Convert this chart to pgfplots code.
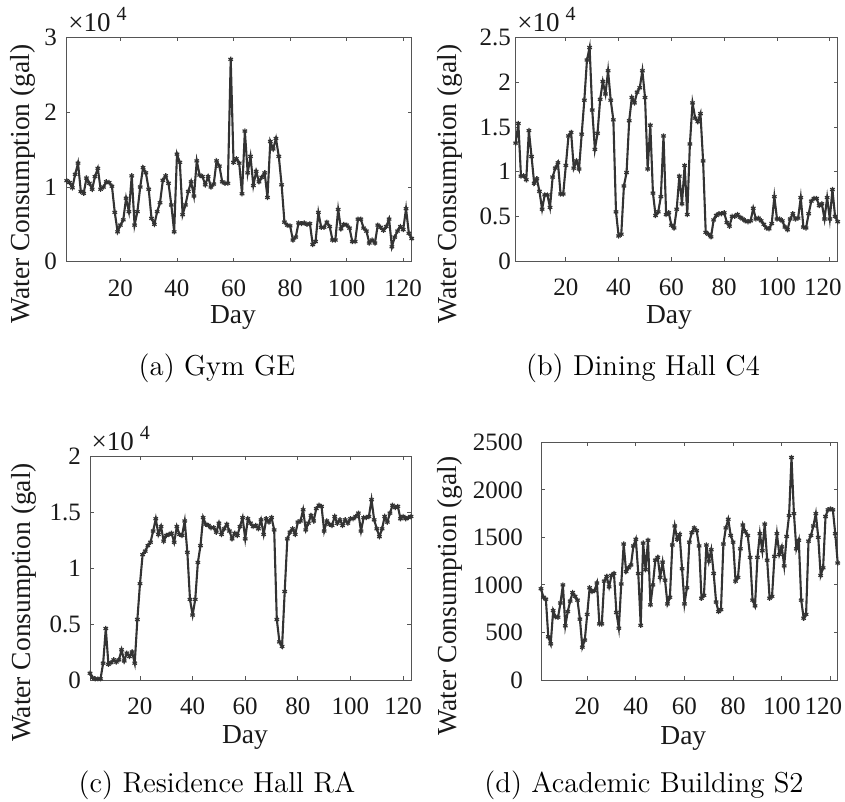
\documentclass[border=0pt]{standalone}
\usepackage{pgfplots}
\pgfplotsset{compat=1.18}
\usepackage{fontspec}
\newfontfamily\timesfont{Liberation Serif}
\newcommand\tickfont{\timesfont\fontsize{12.5}{14}\selectfont}
\newcommand\labfont{\timesfont\fontsize{13.75}{16}\selectfont}
\newcommand\capfont{\fontsize{14.4}{17}\selectfont}
\definecolor{linec}{HTML}{333333}
\definecolor{axc}{HTML}{555555}
\pgfplotsset{
 panel/.style={
  scale only axis, clip=false,
  xmin=1, xmax=123,
  xtick={20,40,60,80,100,120},
  xticklabels={20,40,60,80,100,120},
  scaled y ticks=false, scaled x ticks=false,
  tick align=inside, tick pos=both,
  major tick length=1.8pt,
  axis line style={axc, line width=0.45pt},
  every tick/.style={axc, line width=0.45pt},
  tick label style={font=\tickfont, text=black!90},
  xticklabel style={yshift=-5.5pt},
  /pgf/number format/assume math mode=true,
  label style={font=\labfont, text=black!90},
  xlabel={Day}, ylabel={Water Consumption (gal)},
 },
 dat/.style={color=linec, line width=1.05pt, mark=asterisk, mark size=1.3pt, mark options={line width=0.6pt, solid}},
}
\newcommand\timesten{\node[anchor=base west, yshift=2.85pt, text=black!90, inner sep=0pt] at (rel axis cs:0.004,1) {\timesfont\fontsize{13.5}{15}\selectfont ×10\hspace{3pt}\raisebox{5.5pt}{\fontsize{10}{11}\selectfont 4}};}
\begin{document}
\begin{tikzpicture}
\path[use as bounding box] (0,0) rectangle (422.5pt,401pt);
% (a)
\begin{axis}[panel, at={(33.35pt,270.15pt)}, anchor=south west, width=172.5pt, height=112pt,
 ymin=0, ymax=30000, ytick={0,10000,20000,30000}, yticklabels={0,1,2,3},
 yticklabel style={xshift=-1.35pt},
 ylabel style={at={(axis description cs:-0.1267,0.347)}, anchor=center},
 xlabel style={at={(axis description cs:0.482,-0.251)}, anchor=center}]
\addplot[dat] table[row sep=\\]{x y\\
1 10850\\ 2 10600\\ 3 9900\\ 4 11700\\ 5 13200\\ 6 9400\\ 7 9150\\ 8 11200\\ 9 10500\\ 10 9700\\
11 11400\\ 12 12500\\ 13 9700\\ 14 10000\\ 15 10700\\ 16 10600\\ 17 10100\\ 18 6600\\ 19 4000\\ 20 4900\\
21 5600\\ 22 8500\\ 23 6700\\ 24 11500\\ 25 4900\\ 26 6700\\ 27 10000\\ 28 12600\\ 29 11900\\ 30 9700\\
31 5800\\ 32 5000\\ 33 6700\\ 34 7900\\ 35 10900\\ 36 11500\\ 37 10500\\ 38 7600\\ 39 4000\\ 40 14400\\
41 13300\\ 42 6300\\ 43 7600\\ 44 9400\\ 45 10700\\ 46 8800\\ 47 13500\\ 48 11600\\ 49 11400\\ 50 10300\\
51 11400\\ 52 10000\\ 53 10400\\ 54 13500\\ 55 12800\\ 56 10700\\ 57 10500\\ 58 10500\\ 59 27100\\ 60 13300\\
61 13800\\ 62 13200\\ 63 9100\\ 64 17500\\ 65 11900\\ 66 14100\\ 67 10200\\ 68 12100\\ 69 10700\\ 70 11300\\
71 11900\\ 72 8600\\ 73 16100\\ 74 15100\\ 75 16500\\ 76 14100\\ 77 10300\\ 78 5300\\ 79 4900\\ 80 4800\\
81 2900\\ 82 3300\\ 83 5200\\ 84 5100\\ 85 5200\\ 86 5000\\ 87 5100\\ 88 2300\\ 89 2700\\ 90 6600\\
91 4600\\ 92 4600\\ 93 5300\\ 94 4700\\ 95 2900\\ 96 2900\\ 97 7000\\ 98 4400\\ 99 5000\\ 100 4900\\
101 4500\\ 102 2700\\ 103 2700\\ 104 5700\\ 105 5700\\ 106 4500\\ 107 4100\\ 108 2500\\ 109 2900\\ 110 2500\\
111 4900\\ 112 4600\\ 113 4200\\ 114 4700\\ 115 5700\\ 116 2000\\ 117 3300\\ 118 4100\\ 119 4700\\ 120 4300\\
121 7100\\ 122 3800\\ 123 3100\\
};
\timesten
\end{axis}
% (b)
\begin{axis}[panel, at={(257.85pt,270.5pt)}, anchor=south west, width=161pt, height=111.65pt,
 ymin=0, ymax=25000, ytick={0,5000,10000,15000,20000,25000}, yticklabels={0,0.5,1,1.5,2,2.5},
 xticklabels={20,40,60,80,100,{\kern-7pt 120}},
 yticklabel style={xshift=1.1pt},
 ylabel style={at={(axis description cs:-0.204,0.345)}, anchor=center},
 xlabel style={at={(axis description cs:0.4761,-0.252)}, anchor=center}]
\addplot[dat] table[row sep=\\]{x y\\
1 13200\\ 2 15400\\ 3 9500\\ 4 9550\\ 5 9100\\ 6 14600\\ 7 11700\\ 8 8700\\ 9 9200\\ 10 7800\\
11 5800\\ 12 7400\\ 13 7400\\ 14 6000\\ 15 9400\\ 16 10400\\ 17 11000\\ 18 7500\\ 19 7500\\ 20 10700\\
21 14000\\ 22 14400\\ 23 10400\\ 24 11200\\ 25 10300\\ 26 14200\\ 27 18000\\ 28 22500\\ 29 23900\\ 30 16900\\
31 12500\\ 32 14300\\ 33 18100\\ 34 20100\\ 35 18700\\ 36 21300\\ 37 18000\\ 38 15800\\ 39 5500\\ 40 2800\\
41 3000\\ 42 8400\\ 43 9900\\ 44 15700\\ 45 18300\\ 46 17700\\ 47 18900\\ 48 19400\\ 49 21300\\ 50 18300\\
51 10300\\ 52 15200\\ 53 7600\\ 54 5100\\ 55 5500\\ 56 7200\\ 57 14000\\ 58 5200\\ 59 5400\\ 60 4000\\
61 3700\\ 62 5800\\ 63 9500\\ 64 6400\\ 65 10700\\ 66 5200\\ 67 13100\\ 68 17700\\ 69 16000\\ 70 15600\\
71 16500\\ 72 11200\\ 73 3200\\ 74 3000\\ 75 2700\\ 76 4600\\ 77 5100\\ 78 5300\\ 79 5300\\ 80 5400\\
81 4300\\ 82 3900\\ 83 5000\\ 84 5000\\ 85 5200\\ 86 4900\\ 87 4700\\ 88 4500\\ 89 4400\\ 90 4500\\
91 5900\\ 92 4700\\ 93 4800\\ 94 4500\\ 95 4100\\ 96 3700\\ 97 3600\\ 98 4200\\ 99 7200\\ 100 4700\\
101 4700\\ 102 4500\\ 103 3800\\ 104 3500\\ 105 4700\\ 106 5300\\ 107 4700\\ 108 4800\\ 109 7100\\ 110 3800\\
111 3700\\ 112 5300\\ 113 6700\\ 114 7000\\ 115 7000\\ 116 6200\\ 117 6400\\ 118 4700\\ 119 7100\\ 120 4700\\
121 8000\\ 122 5000\\ 123 4400\\
};
\timesten
\end{axis}
% (c)
\begin{axis}[panel, at={(45pt,61pt)}, anchor=south west, width=160.5pt, height=112pt,
 ymin=0, ymax=20000, ytick={0,5000,10000,15000,20000}, yticklabels={0,0.5,1,1.5,2},
 yticklabel style={xshift=-1pt},
 ylabel style={at={(axis description cs:-0.2056,0.346)}, anchor=center},
 xlabel style={at={(axis description cs:0.483,-0.2576)}, anchor=center}]
\addplot[dat] table[row sep=\\]{x y\\
1 600\\ 2 200\\ 3 100\\ 4 100\\ 5 100\\ 6 1500\\ 7 4600\\ 8 1400\\ 9 1550\\ 10 1800\\
11 1600\\ 12 1800\\ 13 2700\\ 14 1700\\ 15 2400\\ 16 2100\\ 17 2500\\ 18 1500\\ 19 5400\\ 20 8600\\
21 11200\\ 22 11500\\ 23 12000\\ 24 12300\\ 25 13300\\ 26 14400\\ 27 13000\\ 28 13700\\ 29 12400\\ 30 12900\\
31 13000\\ 32 13100\\ 33 12300\\ 34 13700\\ 35 13000\\ 36 12900\\ 37 14200\\ 38 11400\\ 39 7200\\ 40 5800\\
41 7200\\ 42 10500\\ 43 12000\\ 44 14500\\ 45 13900\\ 46 13800\\ 47 13600\\ 48 13600\\ 49 13200\\ 50 14000\\
51 13000\\ 52 13500\\ 53 13900\\ 54 13300\\ 55 12600\\ 56 13100\\ 57 12900\\ 58 13700\\ 59 14500\\ 60 12600\\
61 14400\\ 62 14000\\ 63 13700\\ 64 13800\\ 65 13500\\ 66 14300\\ 67 13000\\ 68 14400\\ 69 14100\\ 70 14500\\
71 13400\\ 72 5400\\ 73 3400\\ 74 3000\\ 75 7900\\ 76 12600\\ 77 13200\\ 78 13500\\ 79 13000\\ 80 14100\\
81 14200\\ 82 15200\\ 83 13400\\ 84 14000\\ 85 14700\\ 86 14200\\ 87 15300\\ 88 15600\\ 89 15500\\ 90 13300\\
91 14200\\ 92 13900\\ 93 13800\\ 94 14600\\ 95 14000\\ 96 14300\\ 97 13800\\ 98 14300\\ 99 14000\\ 100 14400\\
101 14400\\ 102 14600\\ 103 14900\\ 104 13300\\ 105 14500\\ 106 14500\\ 107 14600\\ 108 16100\\ 109 14300\\ 110 13500\\
111 12800\\ 112 13500\\ 113 14600\\ 114 14100\\ 115 14900\\ 116 15600\\ 117 15400\\ 118 15500\\ 119 14400\\ 120 14600\\
121 14400\\ 122 14500\\ 123 14600\\
};
\timesten
\end{axis}
% (d)
\begin{axis}[panel, at={(270.5pt,61pt)}, anchor=south west, width=148.35pt, height=118.85pt,
 ymin=0, ymax=2500, ytick={0,500,1000,1500,2000,2500}, yticklabels={0,500,1000,1500,2000,2500},
 xticklabels={20,40,60,80,100,{\kern-7pt 120}},
 yticklabel style={xshift=-5.5pt},
 ylabel style={at={(axis description cs:-0.3067,0.3547)}, anchor=center},
 xlabel style={at={(axis description cs:0.4796,-0.2453)}, anchor=center}]
\addplot[dat] table[row sep=\\]{x y\\
1 960\\ 2 870\\ 3 850\\ 4 455\\ 5 380\\ 6 730\\ 7 665\\ 8 660\\ 9 810\\ 10 1000\\
11 570\\ 12 720\\ 13 830\\ 14 920\\ 15 880\\ 16 840\\ 17 640\\ 18 345\\ 19 420\\ 20 690\\
21 970\\ 22 930\\ 23 940\\ 24 1020\\ 25 590\\ 26 590\\ 27 1040\\ 28 1090\\ 29 980\\ 30 1100\\
31 1120\\ 32 710\\ 33 545\\ 34 1010\\ 35 1430\\ 36 1140\\ 37 1180\\ 38 1210\\ 39 1410\\ 40 1480\\
41 1120\\ 42 575\\ 43 1440\\ 44 1160\\ 45 1470\\ 46 790\\ 47 1000\\ 48 1260\\ 49 1290\\ 50 1080\\
51 1240\\ 52 1050\\ 53 800\\ 54 870\\ 55 1420\\ 56 1620\\ 57 1480\\ 58 1530\\ 59 1170\\ 60 800\\
61 970\\ 62 1450\\ 63 1550\\ 64 1600\\ 65 1570\\ 66 1410\\ 67 860\\ 68 890\\ 69 1420\\ 70 1250\\
71 1370\\ 72 1120\\ 73 820\\ 74 720\\ 75 740\\ 76 1430\\ 77 1600\\ 78 1690\\ 79 1520\\ 80 1450\\
81 1040\\ 82 1080\\ 83 1380\\ 84 1630\\ 85 1560\\ 86 1520\\ 87 1290\\ 88 840\\ 89 780\\ 90 1290\\
91 1540\\ 92 1360\\ 93 1640\\ 94 1260\\ 95 860\\ 96 880\\ 97 1300\\ 98 1540\\ 99 1320\\ 100 1400\\
101 1200\\ 102 1510\\ 103 1730\\ 104 2340\\ 105 1750\\ 106 1380\\ 107 1470\\ 108 840\\ 109 650\\ 110 690\\
111 1460\\ 112 1520\\ 113 1620\\ 114 1750\\ 115 1500\\ 116 1100\\ 117 1180\\ 118 1720\\ 119 1790\\ 120 1800\\
121 1790\\ 122 1540\\ 123 1230\\
};
\end{axis}
\node[font=\capfont] at (108.5pt,217pt) {(a) Gym GE};
\node[font=\capfont] at (321.5pt,217pt) {(b) Dining Hall C4};
\node[font=\capfont] at (108.5pt,8.5pt) {(c) Residence Hall RA};
\node[font=\capfont] at (322pt,8.5pt) {(d) Academic Building S2};
\end{tikzpicture}
\end{document}
